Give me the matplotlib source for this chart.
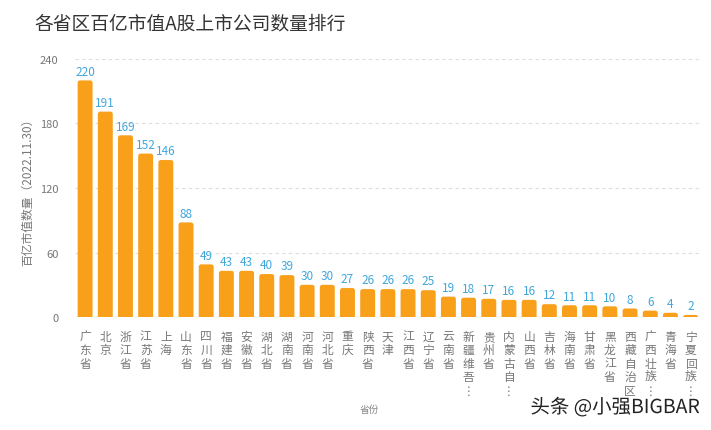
import matplotlib
matplotlib.use("Agg")
import matplotlib.pyplot as plt
import matplotlib.patches as patches
import matplotlib.patheffects as pe

plt.rcParams['font.family'] = ['Noto Sans CJK SC', 'DejaVu Sans']

provinces = ["广东省", "北京", "浙江省", "江苏省", "上海", "山东省", "四川省", "福建省",
             "安徽省", "湖北省", "湖南省", "河南省", "河北省", "重庆", "陕西省", "天津",
             "江西省", "辽宁省", "云南省", "新疆维吾…", "贵州省", "内蒙古自…", "山西省",
             "吉林省", "海南省", "甘肃省", "黑龙江省", "西藏自治区", "广西壮族…", "青海省",
             "宁夏回族…"]
counts = [220, 191, 169, 152, 146, 88, 49, 43, 43, 40, 39, 30, 30, 27, 26, 26,
          26, 25, 19, 18, 17, 16, 16, 12, 11, 11, 10, 8, 6, 4, 2]
yticks = [0, 60, 120, 180, 240]

BAR = "#F8A01A"
LABEL = "#40A6DC"


def vertical(name):
    # one character per line, ellipsis turned upright
    return "\n".join("⋮" if c == "…" else c for c in name)


fig = plt.figure(figsize=(7.11, 4.31), dpi=100)
ax = fig.add_axes([0.1055, 0.262, 0.880, 0.599])

x = list(range(len(counts)))
bars = ax.bar(x, counts, width=0.74, color=BAR, alpha=0)
# redraw each bar with rounded corners
for b in bars:
    r = 2.5
    box = patches.FancyBboxPatch(
        (b.get_x(), -r), b.get_width(), b.get_height() + r,
        boxstyle="round,pad=0,rounding_size=0.12", mutation_aspect=18.8,
        facecolor=BAR, edgecolor="none", zorder=3)
    ax.add_patch(box)

for xi, v in zip(x, counts):
    ax.text(xi, v + 2.5, str(v), ha="center", va="bottom", color=LABEL,
            fontsize=8.5, zorder=4)

ax.set_xlim(-0.5, len(counts) - 0.5)
ax.set_ylim(0, 240)
ax.set_yticks(yticks)
ax.set_xticks(x)
ax.set_xticklabels([vertical(p) for p in provinces], fontsize=8.5, color="#777777",
                   linespacing=1.05, va="top")
ax.tick_params(axis="x", length=0, pad=9)
ax.tick_params(axis="y", length=0, pad=12, labelsize=8, labelcolor="#777777")
ax.grid(axis="y", linestyle=(0, (3, 3)), color="#dddddd", linewidth=0.8, zorder=0)
for s in ax.spines.values():
    s.set_visible(False)
ax.axhline(0, color="#cfd8e8", linewidth=0.8, zorder=2)

ax.set_ylabel("百亿市值数量（2022.11.30）", fontsize=8.5, color="#777777", labelpad=4)
fig.text(0.52, 0.048, "省份", fontsize=7, color="#888888", ha="center", va="center")

fig.text(0.049, 0.945, "各省区百亿市值A股上市公司数量排行", fontsize=13.5, color="#333333",
         ha="left", va="center")

wm = fig.text(0.985, 0.052, "头条 @小强BIGBAR", fontsize=14, color="#222222",
              ha="right", va="center")
wm.set_path_effects([pe.withStroke(linewidth=2.5, foreground="white")])

fig.savefig("out.png", dpi=100)
